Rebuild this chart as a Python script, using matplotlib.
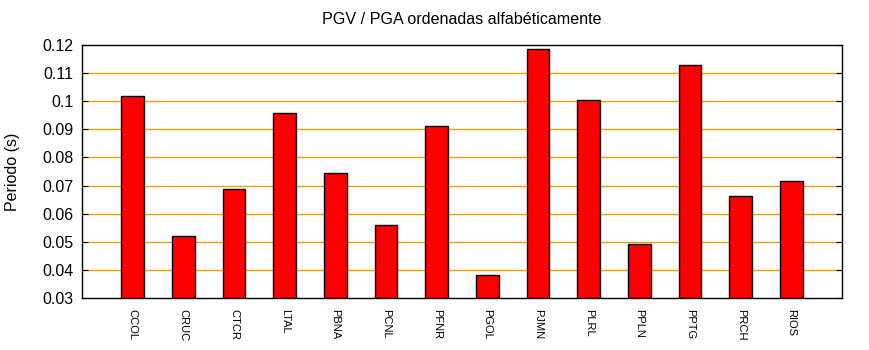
import numpy as np
import matplotlib.pyplot as plt
from matplotlib.ticker import FuncFormatter

plt.rcParams['font.family'] = ['Liberation Sans', 'DejaVu Sans']

estaciones = ['CCOL', 'CRUC', 'CTCR', 'LTAL', 'PBNA', 'PCNL', 'PFNR',
              'PGOL', 'PJMN', 'PLRL', 'PPLN', 'PPTG', 'PRCH', 'RIOS']
periodo = [0.1019, 0.0521, 0.0688, 0.0958, 0.0745, 0.0560, 0.0912,
           0.0382, 0.1186, 0.1004, 0.0492, 0.1129, 0.0663, 0.0716]
yticks = [0.03, 0.04, 0.05, 0.06, 0.07, 0.08, 0.09, 0.10, 0.11, 0.12]

fig = plt.figure(figsize=(8.7, 3.5), dpi=100)
ax = fig.add_axes([0.0943, 0.1486, 0.8735, 0.7228])

x = np.arange(len(estaciones))
ax.bar(x, periodo, width=0.45, color='#ff0000', edgecolor='black',
       linewidth=1, zorder=3)

ax.set_xlim(-1, len(estaciones))
ax.set_ylim(0.03, 0.12)
ax.set_yticks(yticks)
ax.yaxis.set_major_formatter(FuncFormatter(lambda v, p: '%g' % round(v, 2)))
ax.tick_params(axis='y', direction='in', right=True, length=4,
               labelsize=11.5, pad=6)
ax.set_xticks(x)
ax.set_xticklabels(estaciones, rotation=270, fontsize=8)
ax.tick_params(axis='x', length=0, pad=8)

for v in yticks[1:-1]:
    ax.axhline(v, color='#e8a000', linewidth=1, zorder=1)

for s in ax.spines.values():
    s.set_linewidth(1)
    s.set_zorder(4)

ax.set_ylabel('Periodo (s)', fontsize=11.5, labelpad=16)
ax.set_title('PGV / PGA ordenadas alfabéticamente', fontsize=11.6, pad=15)

fig.savefig('out.png', dpi=100)
